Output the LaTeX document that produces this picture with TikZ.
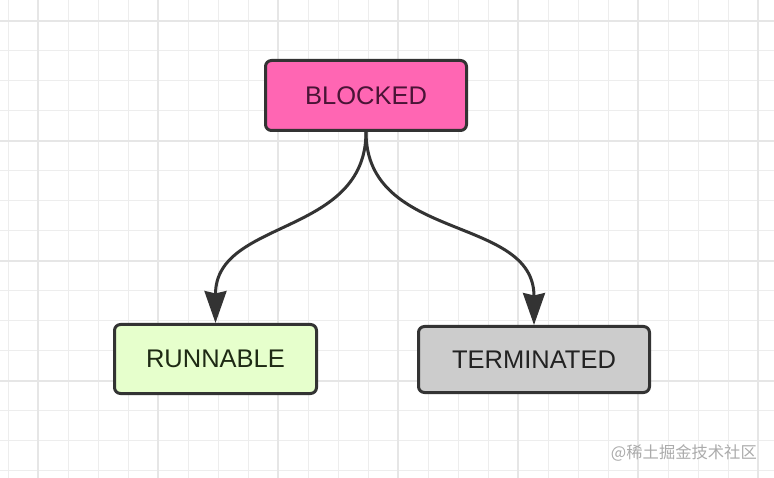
\documentclass[tikz,border=0pt]{standalone}
\usepackage{fontspec}
\setmainfont{Liberation Sans}
\newfontfamily\cjk{Noto Sans CJK SC}
\usetikzlibrary{arrows.meta}
\definecolor{gridminor}{HTML}{EDEDED}
\definecolor{gridmajor}{HTML}{E6E6E6}
\definecolor{edgegray}{HTML}{333333}
\definecolor{pinkfill}{HTML}{FF66B3}
\definecolor{pinktext}{HTML}{4A1436}
\definecolor{greenfill}{HTML}{E6FFCC}
\definecolor{greentext}{HTML}{1E2A14}
\definecolor{grayfill}{HTML}{CCCCCC}
\definecolor{graytext}{HTML}{222222}
\definecolor{marktext}{HTML}{ABABAB}
\tikzset{
  statebox/.style={draw=edgegray, line width=3pt, rounded corners=6pt,
    inner sep=0pt, font=\fontsize{25.5}{29}\selectfont},
  flow/.style={draw=edgegray, line width=3pt,
    -{Stealth[length=32pt,width=22pt,inset=2.5pt]}},
}
\begin{document}
\begin{tikzpicture}[x=1pt,y=1pt]
\useasboundingbox (0,0) rectangle (774,-478);
\fill[white] (0,0) rectangle (774,-478);
% grid
\foreach \gx in {0,...,25} {
  \draw[gridminor, line width=1.5pt] (8.3+30*\gx,0) -- (8.3+30*\gx,-478);
}
\foreach \gy in {0,...,15} {
  \draw[gridminor, line width=1.5pt] (0,-20.7-30*\gy) -- (774,-20.7-30*\gy);
}
\foreach \gx in {0,...,6} {
  \draw[gridmajor, line width=1.7pt] (38+120*\gx,0) -- (38+120*\gx,-478);
}
\foreach \gy in {0,...,3} {
  \draw[gridmajor, line width=1.7pt] (0,-20.7-120*\gy) -- (774,-20.7-120*\gy);
}
% nodes
\node[statebox, fill=pinkfill, text=pinktext, minimum width=201pt, minimum height=70pt]
  (b) at (366,-95.5) {BLOCKED};
\node[statebox, fill=greenfill, text=greentext, minimum width=202pt, minimum height=69pt]
  (r) at (215.5,-359) {RUNNABLE};
\node[statebox, fill=grayfill, text=graytext, minimum width=231pt, minimum height=66pt]
  (t) at (534,-359.5) {TERMINATED};
% edges
\draw[flow] (b.south) to[out=-90,in=90,looseness=1.1] (r.north);
\draw[flow] (b.south) to[out=-90,in=90,looseness=1.1] (t.north);
% watermark
\node[anchor=east, inner sep=0pt, text=marktext, font=\cjk\fontsize{16.3}{18}\selectfont]
  (wm) at (757,-453) {@稀土掘金技术社区};
\end{tikzpicture}
\end{document}
